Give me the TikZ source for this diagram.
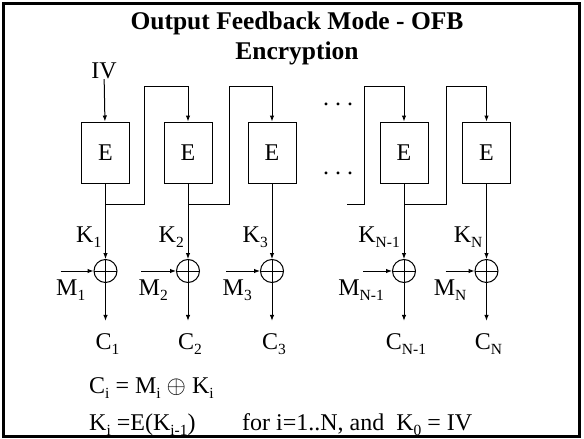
\documentclass[tikz,border=0pt]{standalone}
\usepackage{fontspec}
\setmainfont{Liberation Serif}
\usetikzlibrary{positioning,arrows.meta,calc}
\newcommand{\lowsub}[1]{\raisebox{-5pt}{\fontsize{15.5}{16}\selectfont#1}}

\begin{document}
\begin{tikzpicture}[x=1pt,y=-1pt,
    box/.style={draw,line width=1pt,minimum width=48pt,minimum height=61pt,font=\fontsize{24}{28}\selectfont},
    xor/.style={draw,circle,line width=1pt,minimum size=23pt,inner sep=0pt,
      path picture={\draw[line width=1pt] (path picture bounding box.north) -- (path picture bounding box.south)
        (path picture bounding box.west) -- (path picture bounding box.east);}},
    lbl/.style={inner sep=0pt,font=\fontsize{24}{28}\selectfont},
    arr/.style={-{Latex[length=6pt,width=4.5pt]},line width=1pt}
  ]
    \useasboundingbox (0,0) rectangle (584,439);
    \draw[line width=3pt] (3.5,3.5) rectangle (579,436);
    \node[align=center,inner sep=0pt,font=\bfseries\fontsize{25.5}{30}\selectfont] (title) at (297,38) {Output Feedback Mode - OFB\\Encryption};
    \node[lbl] (iv) at (104,71) {IV};
    \coordinate (top) at (0,86);
    \coordinate (bot) at (0,204);
    \foreach \i/\x/\d/\s in {1/105.5/45/1,2/188/47/2,3/272/46/3,4/404/41/N-1,5/486.5/41/N}{
      \node[box] (e\i) at (\x,152.5) {E};
      \node[xor] (x\i) at (\x,271) {};
      \coordinate (j\i) at (e\i |- bot);
      \coordinate (m\i) at (\x-\d,271);
      \node[lbl,anchor=base east] (k\i) at (\x-4,242) {K\lowsub{\s}};
      \node[lbl,anchor=base east] (ml\i) at ([shift={(-8,24)}]x\i.west) {M\lowsub{\s}};
      \node[lbl,anchor=base] (c\i) at (\x+2,349) {C\lowsub{\s}};
      \draw[arr] (e\i) -- (x\i);
      \draw[arr] (m\i) -- (x\i);
      \draw[arr,shorten >=12pt] (x\i) -- (x\i |- c\i.north);
    }
    \draw[arr] (iv) -- (e1);
    % feedback of each key into the next block
    \coordinate (f4) at (347,204);
    \foreach \a/\n/\l in {j1/2/144.5,j2/3/229,f4/4/364,j4/5/446}{
      \draw[arr] (\a) -- (\l,204) -- (\l,86) -- (e\n.north |- top) -- (e\n);
    }
    \node[lbl] (d1) at (338,104) {.\hspace{6pt}.\hspace{6pt}.};
    \node[lbl] (d2) at (338,173) {.\hspace{6pt}.\hspace{6pt}.};
    \node[lbl,anchor=base west] (eqa) at (89,393) {C\lowsub{i} = M\lowsub{i} $\oplus$ K\lowsub{i}};
    \node[lbl,anchor=base west] (eqb) at (89,430) {K\lowsub{i} =E(K\lowsub{i-1})};
    \node[lbl,anchor=base west] (eqc) at (242,430) {for i=1..N, and\ \ K\lowsub{0} = IV};
  \end{tikzpicture}
\end{document}
